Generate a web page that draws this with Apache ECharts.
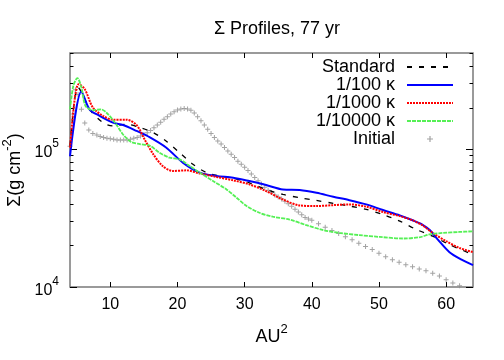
<!DOCTYPE html>
<html>
<head>
  <meta charset="utf-8" />
  <title>Sigma profiles</title>
  <script src="https://cdn.jsdelivr.net/npm/echarts@6/dist/echarts.min.js"></script>
  <style>
    body { margin: 0; background: #fff; }
    #main { width: 504px; height: 360px; }
  </style>
</head>
<body>
  <div id="main"></div>
  <script>
    // values (x in AU^2, y in g cm^-2)
    var stdX = [4, 4.7, 5.2, 6.2, 6.9, 8.9, 10.4, 12.4, 14.4, 16.4, 18.3, 20.3, 22.3, 24.3, 26.3, 28.3, 30.7, 33.2, 35.7, 38.2, 40.7, 43.2, 45.6, 48.1, 50.6, 53.1, 55.6, 58, 60.5, 64];
    var stdY = [1.06e5, 2.31e5, 2.81e5, 2.31e5, 1.95e5, 1.56e5, 1.48e5, 1.52e5, 1.44e5, 1.32e5, 1.15e5, 9.46e4, 7.78e4, 6.77e4, 6.4e4, 6.15e4, 5.71e4, 5.11e4, 4.7e4, 4.45e4, 4.25e4, 4.05e4, 3.87e4, 3.66e4, 3.36e4, 3.01e4, 2.61e4, 2.34e4, 2.03e4, 1.72e4];

    var k100X = [4, 5.7, 6.9, 8.4, 10.4, 11.9, 13.9, 15.9, 18.3, 20.8, 23.3, 25.8, 28.3, 30.7, 33.2, 35.7, 38.2, 40.7, 43.2, 45.6, 48.1, 50.6, 53.1, 55, 56.5, 57.6, 58.8, 60.5, 62.3, 64];
    var k100Y = [8.9e4, 2.63e5, 1.95e5, 1.75e5, 1.56e5, 1.5e5, 1.36e5, 1.22e5, 1.03e5, 8.0e4, 6.77e4, 6.4e4, 6.22e4, 5.88e4, 5.5e4, 5.11e4, 5.06e4, 4.83e4, 4.52e4, 4.27e4, 3.98e4, 3.62e4, 3.31e4, 3.05e4, 2.83e4, 2.58e4, 2.2e4, 1.79e4, 1.58e4, 1.44e4];

    var k1000X = [4, 4.7, 5.3, 6.2, 7.4, 8.9, 10.4, 12.4, 13.9, 15.1, 16.4, 17.8, 19.3, 21.3, 23.3, 25.8, 28.3, 30.7, 33.2, 35.7, 38.2, 40.7, 43.2, 45.6, 48.1, 50.6, 53.1, 55, 56.5, 58, 60, 62, 64];
    var k1000Y = [1.03e5, 2.31e5, 2.97e5, 2.73e5, 2.01e5, 1.75e5, 1.64e5, 1.64e5, 1.5e5, 1.18e5, 9.2e4, 7.56e4, 6.95e4, 7.03e4, 6.68e4, 6.3e4, 5.95e4, 5.56e4, 4.97e4, 4.32e4, 3.91e4, 3.87e4, 3.93e4, 3.98e4, 3.83e4, 3.5e4, 3.27e4, 3.05e4, 2.8e4, 2.47e4, 2.15e4, 1.92e4, 1.79e4];

    var k10000X = [4, 4.5, 5.1, 5.7, 6.3, 7.4, 8.6, 9.4, 10.7, 11.9, 13.1, 14.4, 15.9, 17.3, 18.8, 20.3, 21.8, 23.3, 25.3, 27.3, 28.8, 30.3, 32.2, 34.2, 36.7, 39.2, 41.7, 44.1, 47.1, 50.1, 53.6, 56.1, 57.5, 59.5, 62, 64];
    var k10000Y = [1.95e5, 2.89e5, 3.29e5, 2.81e5, 2.07e5, 1.92e5, 1.95e5, 1.85e5, 1.56e5, 1.28e5, 1.13e5, 1.09e5, 1.06e5, 9.46e4, 8.7e4, 8.45e4, 7.56e4, 6.77e4, 5.88e4, 5.11e4, 4.45e4, 3.87e4, 3.46e4, 3.24e4, 3.09e4, 2.81e4, 2.59e4, 2.47e4, 2.38e4, 2.31e4, 2.25e4, 2.3e4, 2.41e4, 2.47e4, 2.51e4, 2.54e4];

    var initX = [4, 4.4, 4.8, 5.2, 5.7, 6.2, 6.8, 7.4, 8, 8.5, 9, 9.5, 10, 10.5, 11, 11.5, 12, 12.5, 13, 13.5, 14, 14.5, 15, 15.5, 16, 16.5, 17, 17.5, 18, 18.5, 19, 19.5, 20, 20.5, 21, 21.5, 22, 22.5, 23, 23.5, 24, 24.5, 25, 25.5, 26, 26.5, 27, 27.5, 28, 28.5, 29, 29.5, 30, 30.5, 31, 31.5, 32, 32.5, 33, 33.5, 34, 34.5, 35, 35.5, 36, 36.5, 37, 37.5, 38, 38.5, 39, 39.5, 40, 41, 42, 43, 44, 45, 46, 47, 48, 49, 50, 51, 52, 53, 54, 55, 56, 57, 58, 59, 60, 61, 62];
    var initY = [1.05e5, 1.8e5, 2.7e5, 2.5e5, 1.95e5, 1.55e5, 1.38e5, 1.3e5, 1.27e5, 1.24e5, 1.22e5, 1.2e5, 1.19e5, 1.18e5, 1.17e5, 1.17e5, 1.17e5, 1.17e5, 1.18e5, 1.2e5, 1.22e5, 1.25e5, 1.28e5, 1.32e5, 1.37e5, 1.43e5, 1.5e5, 1.57e5, 1.65e5, 1.72e5, 1.8e5, 1.87e5, 1.93e5, 1.96e5, 1.98e5, 1.96e5, 1.92e5, 1.83e5, 1.72e5, 1.61e5, 1.5e5, 1.4e5, 1.3e5, 1.22e5, 1.15e5, 1.09e5, 1.03e5, 9.7e4, 9.2e4, 8.7e4, 8.2e4, 7.8e4, 7.4e4, 7.0e4, 6.6e4, 6.25e4, 5.9e4, 5.6e4, 5.3e4, 5.05e4, 4.85e4, 4.65e4, 4.5e4, 4.35e4, 4.2e4, 4.02e4, 3.85e4, 3.67e4, 3.5e4, 3.35e4, 3.2e4, 3.12e4, 3.05e4, 2.88e4, 2.72e4, 2.57e4, 2.45e4, 2.32e4, 2.2e4, 2.08e4, 1.97e4, 1.87e4, 1.76e4, 1.66e4, 1.58e4, 1.51e4, 1.45e4, 1.4e4, 1.35e4, 1.31e4, 1.26e4, 1.2e4, 1.13e4, 1.07e4, 1.02e4];

    var xTicks = [10, 20, 30, 40, 50, 60];
    var yMajor = [1e4, 1e5];
    var yMinor = [2e4, 3e4, 4e4, 5e4, 6e4, 7e4, 8e4, 9e4, 2e5, 3e5, 4e5, 5e5];

    function pairs(xs, ys) {
      return xs.map(function (x, i) { return [x, ys[i]]; });
    }

    var font = 'Liberation Sans, Arial, sans-serif';
    var plus = 'path://M4,0H6V4H10V6H6V10H4V6H0V4H4Z';

    // superscript styles: a small top-aligned token in a tall line raises it
    var tickRich = {
      b: { fontSize: 16, fontFamily: font, color: '#000', lineHeight: 30 },
      s: { fontSize: 12, fontFamily: font, color: '#000', verticalAlign: 'top', lineHeight: 8 }
    };
    var nameRich = {
      b: { fontSize: 18, fontFamily: font, color: '#000', lineHeight: 28 },
      s: { fontSize: 13, fontFamily: font, color: '#000', verticalAlign: 'top', lineHeight: 8 }
    };

    var myChart = echarts.init(document.getElementById('main'));

    function yAxisDef(pos, ticks, len, labels) {
      return {
        type: 'log',
        logBase: 10,
        min: 1e4,
        max: 5e5,
        position: pos,
        axisLine: { show: false },
        splitLine: { show: false },
        axisTick: { show: true, inside: true, length: len, customValues: ticks, lineStyle: { color: '#000' } },
        axisLabel: labels ? {
          show: true,
          customValues: yMajor,
          margin: 11,
          padding: [7, 0, 0, 0],
          formatter: function (v) {
            return '{b|10}{s|' + Math.round(Math.log10(v)) + '}';
          },
          rich: tickRich
        } : { show: false }
      };
    }

    function xAxisDef(pos, labels) {
      return {
        type: 'value',
        min: 4,
        max: 64,
        position: pos,
        axisLine: { show: false },
        splitLine: { show: false },
        axisTick: { show: true, inside: true, length: 5, customValues: xTicks, lineStyle: { color: '#000' } },
        axisLabel: labels ? {
          show: true,
          customValues: xTicks,
          margin: 10,
          fontSize: 16,
          color: '#000',
          fontFamily: font
        } : { show: false }
      };
    }

    var xBottom = xAxisDef('bottom', true);
    xBottom.name = '{b|AU}{s|2}';
    xBottom.nameLocation = 'middle';
    xBottom.nameGap = 36;
    xBottom.nameTextStyle = { rich: nameRich };

    var yLeft = yAxisDef('left', yMajor, 7, true);
    yLeft.name = '{b|Σ(g cm}{s|-2}{b|)}';
    yLeft.nameLocation = 'middle';
    yLeft.nameGap = 30;
    yLeft.nameTextStyle = { rich: nameRich };

    var hideSym = { opacity: 0 };

    var option = {
      animation: false,
      backgroundColor: '#fff',
      title: {
        text: 'Σ Profiles, 77 yr',
        left: 272,
        textAlign: 'center',
        top: 15,
        textStyle: { fontSize: 18, fontWeight: 'normal', fontFamily: font, color: '#000' }
      },
      grid: {
        left: 70, right: 31, top: 53, bottom: 73,
        outerBoundsMode: 'none',
        containLabel: false,
        show: true,
        borderColor: '#7a7a7a',
        borderWidth: 1.5
      },
      legend: {
        orient: 'vertical',
        align: 'right',
        right: 45,
        top: 53,
        itemWidth: 46,
        itemHeight: 6,
        itemGap: 0,
        textStyle: { fontSize: 18, fontFamily: font, color: '#000', lineHeight: 18, padding: [0, 7, 0, 0] },
        data: [
          { name: 'Standard', itemStyle: hideSym },
          { name: '1/100 κ', itemStyle: hideSym },
          { name: '1/1000 κ', itemStyle: hideSym },
          { name: '1/10000 κ', itemStyle: hideSym },
          { name: 'Initial', icon: plus }
        ]
      },
      xAxis: [xBottom, xAxisDef('top', false)],
      yAxis: [
        yLeft,
        yAxisDef('left', yMinor, 3.5, false),
        yAxisDef('right', yMajor, 7, false),
        yAxisDef('right', yMinor, 3.5, false)
      ],
      series: [
        {
          name: 'Initial', type: 'scatter', symbol: plus, symbolSize: 5,
          itemStyle: { color: '#8c8c8c' }, z: 1,
          data: pairs(initX, initY)
        },
        {
          name: 'Standard', type: 'line', smooth: 0.3, symbol: 'none',
          itemStyle: { color: '#000' },
          lineStyle: { color: '#000', width: 1.3, type: [5, 7] },
          data: pairs(stdX, stdY)
        },
        {
          name: '1/100 κ', type: 'line', smooth: 0.3, symbol: 'none',
          itemStyle: { color: '#0000ff' },
          lineStyle: { color: '#0000ff', width: 2 },
          data: pairs(k100X, k100Y)
        },
        {
          name: '1/1000 κ', type: 'line', smooth: 0.3, symbol: 'none',
          itemStyle: { color: '#ff0000' },
          lineStyle: { color: '#ff0000', width: 2, type: [2, 1] },
          data: pairs(k1000X, k1000Y)
        },
        {
          name: '1/10000 κ', type: 'line', smooth: 0.3, symbol: 'none',
          itemStyle: { color: '#55f055' },
          lineStyle: { color: '#55f055', width: 1.8, type: [4, 1] },
          data: pairs(k10000X, k10000Y)
        }
      ]
    };
    myChart.setOption(option);
  </script>
</body>
</html>
